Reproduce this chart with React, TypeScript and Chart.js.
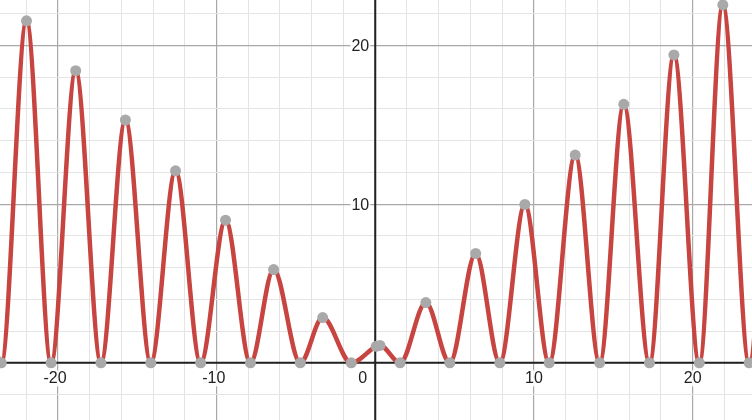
import { useEffect, useRef } from "react";
import { Chart, registerables } from "chart.js";
Chart.register(...registerables);

// points (peaks and zeros), one extra just outside the view on each side
const pointX = [
  -25.13, -23.56, -21.97, -20.42, -18.87, -17.28, -15.74, -14.14, -12.58, -11.0, -9.43, -7.86,
  -6.4, -4.72, -3.31, -1.51, 0.06, 0.3, 1.57, 3.19, 4.7, 6.33, 7.85, 9.43, 10.96, 12.6, 14.14,
  15.66, 17.28, 18.82, 20.42, 21.9, 23.56, 25.13,
];
const pointY = [
  24.7, 0, 21.55, 0, 18.41, 0, 15.3, 0, 12.1, 0, 8.99, 0,
  5.88, 0, 2.85, 0, 1.04, 1.1, 0, 3.8, 0, 6.89, 0, 9.98, 0, 13.09, 0,
  16.29, 0, 19.4, 0, 22.55, 0, 25.7,
];
const xTickLabels = [-20, -10, 10, 20];
const yTickLabels = [10, 20];

const X_MIN = -23.64;
const X_MAX = 23.74;
const Y_MIN = -3.6;
const Y_MAX = 22.86;

const FONT = '16px "Liberation Sans", Arial, sans-serif';

const gridColor = (v: number) => (v % 10 === 0 ? "#a9a9a9" : "#e4e4e4");

const axesPlugin = {
  id: "desmosAxes",
  beforeDatasetsDraw(chart: any) {
    const { ctx, chartArea, scales } = chart;
    const xs = scales.x;
    const ys = scales.y;
    const x0 = xs.getPixelForValue(0);
    const y0 = ys.getPixelForValue(0);
    ctx.save();
    ctx.strokeStyle = "#222";
    ctx.lineWidth = 2;
    ctx.beginPath();
    ctx.moveTo(chartArea.left, y0);
    ctx.lineTo(chartArea.right, y0);
    ctx.moveTo(x0, chartArea.top);
    ctx.lineTo(x0, chartArea.bottom);
    ctx.stroke();

    ctx.font = FONT;
    ctx.textBaseline = "alphabetic";
    const base = y0 + 20.5;
    const drawBox = (left: number, w: number, top: number, h: number) => {
      ctx.fillStyle = "rgba(255,255,255,0.9)";
      ctx.fillRect(left - 1, top, w + 2, h);
    };
    xTickLabels.forEach((v) => {
      const px = xs.getPixelForValue(v);
      const digits = String(Math.abs(v));
      const w = ctx.measureText(digits).width;
      const mw = v < 0 ? ctx.measureText("-").width : 0;
      const left = px - w / 2 - mw;
      drawBox(left, w + mw, base - 13, 16);
      ctx.fillStyle = "#222";
      ctx.textAlign = "left";
      ctx.fillText(String(v), left, base);
    });
    // origin label
    const zw = ctx.measureText("0").width;
    drawBox(x0 - 8 - zw, zw, base - 13, 16);
    ctx.fillStyle = "#222";
    ctx.textAlign = "right";
    ctx.fillText("0", x0 - 8, base);

    yTickLabels.forEach((v) => {
      const py = ys.getPixelForValue(v);
      const t = String(v);
      const w = ctx.measureText(t).width;
      drawBox(x0 - 6 - w, w, py - 8, 16);
      ctx.fillStyle = "#222";
      ctx.textAlign = "right";
      ctx.fillText(t, x0 - 6, py + 6);
    });
    ctx.restore();
  },
};

export default function App() {
  const canvasRef = useRef<HTMLCanvasElement | null>(null);

  useEffect(() => {
    document.body.style.margin = "0";
    if (!canvasRef.current) return;
    const data = pointX.map((x, i) => ({ x, y: pointY[i] }));
    const chart = new Chart(canvasRef.current, {
      type: "line",
      data: {
        datasets: [
          {
            data,
            borderColor: "#c74440",
            borderWidth: 4.5,
            cubicInterpolationMode: "monotone",
            pointRadius: 5.5,
            pointBorderWidth: 0,
            pointBackgroundColor: "#a9a9a9",
            pointHoverRadius: 5.5,
          },
        ],
      },
      options: {
        animation: false,
        responsive: true,
        maintainAspectRatio: false,
        layout: { padding: 0, autoPadding: false },
        events: [],
        plugins: { legend: { display: false }, tooltip: { enabled: false } },
        scales: {
          x: {
            type: "linear",
            min: X_MIN,
            max: X_MAX,
            border: { display: false },
            ticks: { display: false, stepSize: 2, includeBounds: false },
            grid: {
              drawTicks: false,
              tickLength: 0,
              lineWidth: (c: any) => (c.tick && c.tick.value % 10 === 0 ? 1.2 : 1),
              color: (c: any) => gridColor(c.tick ? c.tick.value : 1),
            },
            afterFit: (s: any) => {
              s.height = 0;
            },
          },
          y: {
            type: "linear",
            min: Y_MIN,
            max: Y_MAX,
            border: { display: false },
            ticks: { display: false, stepSize: 2, includeBounds: false },
            grid: {
              drawTicks: false,
              tickLength: 0,
              lineWidth: (c: any) => (c.tick && c.tick.value % 10 === 0 ? 1.2 : 1),
              color: (c: any) => gridColor(c.tick ? c.tick.value : 1),
            },
            afterFit: (s: any) => {
              s.width = 0;
            },
          },
        },
      } as any,
      plugins: [axesPlugin],
    });
    return () => chart.destroy();
  }, []);

  return (
    <div style={{ width: 752, height: 420, position: "relative", background: "#fff" }}>
      <canvas ref={canvasRef} />
    </div>
  );
}
